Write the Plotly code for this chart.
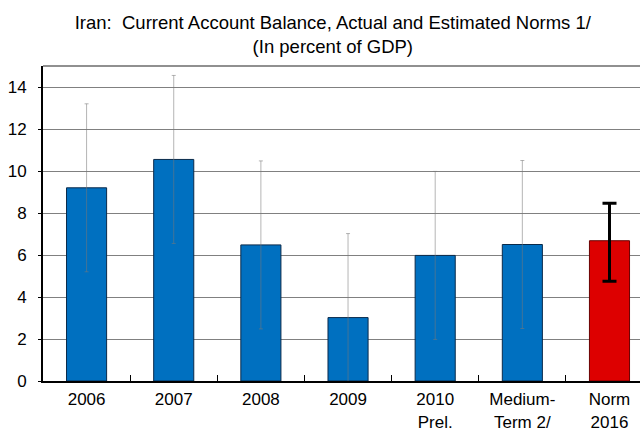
import plotly.graph_objects as go

categories = ["2006", "2007", "2008", "2009", "2010<br>Prel.", "Medium-<br>Term 2/", "Norm<br>2016"]
values = [9.2, 10.55, 6.48, 3.02, 5.98, 6.5, 6.68]
err_plus = [4.0, 4.0, 4.0, 4.0, 4.0, 4.0, 1.78]
err_minus = [4.0, 4.0, 4.0, 4.0, 4.0, 4.0, 1.93]
y_ticks = [0, 2, 4, 6, 8, 10, 12, 14]

blue = "#0070C0"
red = "#DD0000"
FONT = "Liberation Sans, Arial, sans-serif"

fig = go.Figure()
fig.add_trace(go.Bar(
    x=categories[:6], y=values[:6],
    marker=dict(color=blue, line=dict(color="#0a2a4a", width=1)),
    width=0.46,
    error_y=dict(type="data", symmetric=False, array=err_plus[:6], arrayminus=err_minus[:6],
                 color="rgba(120,120,120,0.55)", thickness=1, width=2),
    showlegend=False,
))
fig.add_trace(go.Bar(
    x=categories[6:], y=values[6:],
    marker=dict(color=red, line=dict(color="#6a0000", width=1)),
    width=0.46,
    error_y=dict(type="data", symmetric=False, array=err_plus[6:], arrayminus=err_minus[6:],
                 color="black", thickness=3, width=7),
    showlegend=False,
))

fig.update_layout(
    width=640, height=432,
    margin=dict(l=43, r=0, t=66, b=51),
    paper_bgcolor="white", plot_bgcolor="white",
    font=dict(family=FONT, size=17, color="black"),
    title=dict(text="Iran:  Current Account Balance, Actual and Estimated Norms 1/<br>(In percent of GDP)",
               x=0.52, xanchor="center", yref="container", y=1 - 29 / 432, yanchor="middle",
               automargin=False,
               font=dict(family=FONT, size=18.5, color="black")),
    barmode="overlay",
    xaxis=dict(
        type="category", categoryorder="array", categoryarray=categories,
        range=[-0.5, 6.35],
        showline=True, linecolor="black", linewidth=2,
        ticks="inside", ticklen=6, tickcolor="black", tickwidth=1,
        tickson="boundaries", showgrid=False,
        tickfont=dict(size=17),
        ticklabelstandoff=2,
        automargin=False,
    ),
    yaxis=dict(
        range=[0, 15], tickvals=y_ticks,
        showline=True, linecolor="black", linewidth=2,
        ticks="outside", ticklen=3, tickcolor="black",
        showgrid=True, gridcolor="#808080", gridwidth=1,
        zeroline=False,
        tickfont=dict(size=17),
        ticklabelstandoff=8,
        automargin=False,
    ),
    shapes=[dict(type="line", xref="paper", yref="paper", x0=0, x1=1, y0=1, y1=1,
                 line=dict(color="#909090", width=2))],
)

fig.write_html("out.html")
